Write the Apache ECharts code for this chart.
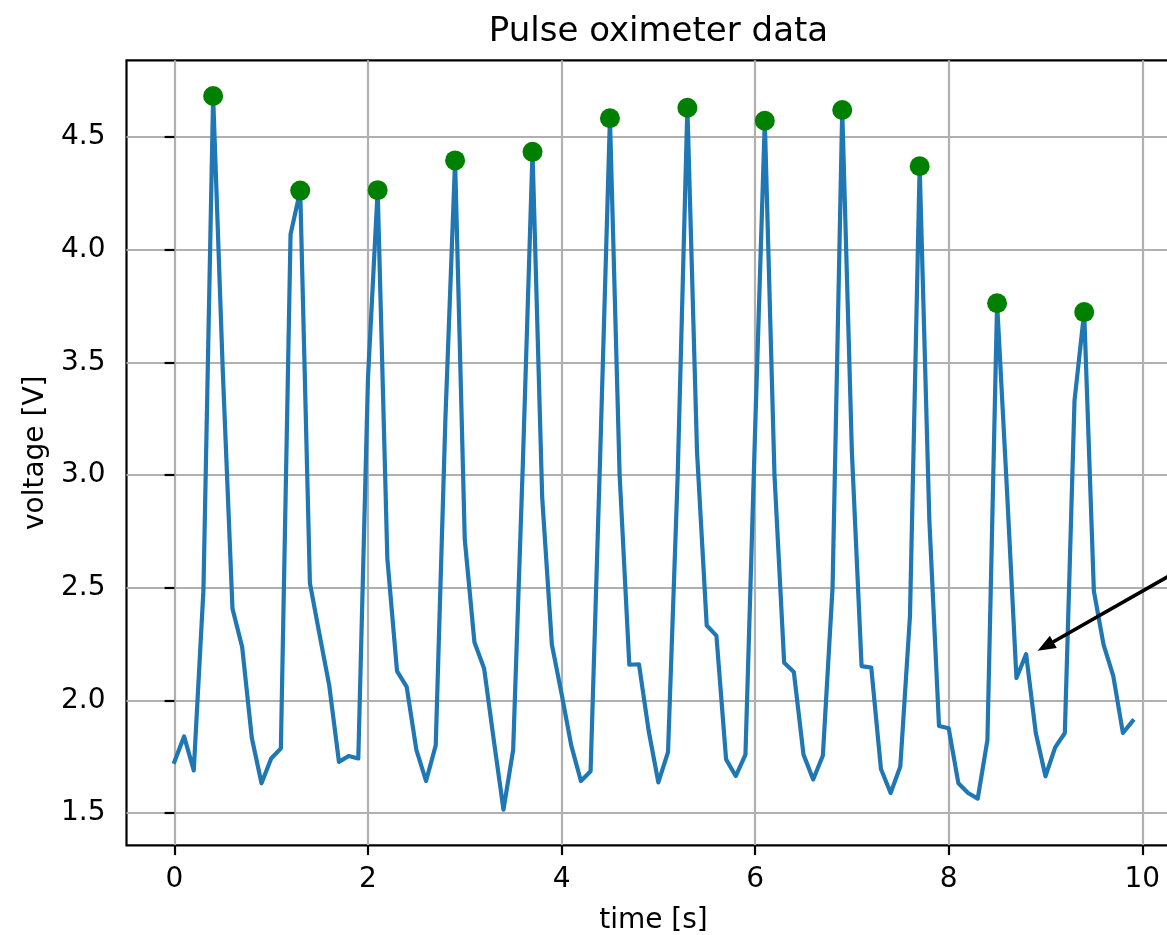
<!DOCTYPE html>
<html>
<head>
<meta charset="utf-8">
<title>Pulse oximeter data</title>
<script src="https://cdn.jsdelivr.net/npm/echarts@6/dist/echarts.min.js"></script>
<style>
  html, body { margin: 0; padding: 0; background: #fff; }
  #chart { width: 1167px; height: 935px; }
</style>
</head>
<body>
<div id="chart"></div>
<script>
// Sample times (s), 10 Hz
const timeS = [
  0.0, 0.1, 0.2, 0.3, 0.4, 0.5, 0.6, 0.7, 0.8, 0.9,
  1.0, 1.1, 1.2, 1.3, 1.4, 1.5, 1.6, 1.7, 1.8, 1.9,
  2.0, 2.1, 2.2, 2.3, 2.4, 2.5, 2.6, 2.7, 2.8, 2.9,
  3.0, 3.1, 3.2, 3.3, 3.4, 3.5, 3.6, 3.7, 3.8, 3.9,
  4.0, 4.1, 4.2, 4.3, 4.4, 4.5, 4.6, 4.7, 4.8, 4.9,
  5.0, 5.1, 5.2, 5.3, 5.4, 5.5, 5.6, 5.7, 5.8, 5.9,
  6.0, 6.1, 6.2, 6.3, 6.4, 6.5, 6.6, 6.7, 6.8, 6.9,
  7.0, 7.1, 7.2, 7.3, 7.4, 7.5, 7.6, 7.7, 7.8, 7.9,
  8.0, 8.1, 8.2, 8.3, 8.4, 8.5, 8.6, 8.7, 8.8, 8.9,
  9.0, 9.1, 9.2, 9.3, 9.4, 9.5, 9.6, 9.7, 9.8, 9.9
];

// Sensor output (V)
const voltage = [
  1.727, 1.840, 1.689, 2.490, 4.682, 3.460, 2.407, 2.237, 1.833, 1.632,
  1.742, 1.787, 4.068, 4.262, 2.520, 2.290, 2.065, 1.727, 1.753, 1.742,
  3.430, 4.264, 2.630, 2.130, 2.060, 1.780, 1.642, 1.800, 3.250, 4.396,
  2.714, 2.258, 2.141, 1.823, 1.515, 1.780, 3.050, 4.434, 2.900, 2.247,
  2.030, 1.800, 1.642, 1.685, 3.100, 4.583, 3.000, 2.158, 2.160, 1.865,
  1.636, 1.770, 3.000, 4.630, 3.100, 2.332, 2.287, 1.738, 1.664, 1.759,
  3.200, 4.572, 3.000, 2.167, 2.126, 1.759, 1.649, 1.755, 2.500, 4.620,
  3.100, 2.152, 2.145, 1.695, 1.589, 1.706, 2.375, 4.370, 2.800, 1.886,
  1.876, 1.632, 1.589, 1.564, 1.823, 3.762, 2.950, 2.099, 2.205, 1.855,
  1.663, 1.791, 1.855, 3.330, 3.723, 2.485, 2.247, 2.109, 1.855, 1.908
];

// Indices of the detected pulse peaks
const peakIndex = [4, 13, 21, 29, 37, 45, 53, 61, 69, 77, 85, 94];

// Tick positions
const xTicks = [0, 2, 4, 6, 8, 10];
const yTicks = [1.5, 2.0, 2.5, 3.0, 3.5, 4.0, 4.5];

// Annotation arrow (data coordinates): tail runs off to the right, head at the notch
const noteTail = [10.35, 2.57];
const noteHead = [9.0, 2.24];

// Axis limits with a 5 % margin around the data
function paddedRange(values) {
  const lo = Math.min.apply(null, values);
  const hi = Math.max.apply(null, values);
  const m = 0.05 * (hi - lo);
  return [lo - m, hi + m];
}
const [xMin, xMax] = paddedRange(timeS);
const [yMin, yMax] = paddedRange(voltage);

const FONT = 'DejaVu Sans';
const plot = { left: 126.5, top: 60.3, width: 1054, height: 785 };

const lineData = timeS.map((t, i) => [t, voltage[i]]);
const peakData = peakIndex.map(i => [timeS[i], voltage[i]]);

const chart = echarts.init(document.getElementById('chart'), null, { renderer: 'canvas' });

chart.setOption({
  animation: false,
  backgroundColor: '#ffffff',
  title: {
    text: 'Pulse oximeter data',
    left: plot.left + plot.width / 2,
    top: 10,
    textAlign: 'center',
    textStyle: { fontFamily: FONT, fontSize: 34, fontWeight: 'normal', color: '#000' }
  },
  grid: {
    left: plot.left,
    top: plot.top,
    width: plot.width,
    height: plot.height,
    show: true,
    borderColor: '#000',
    borderWidth: 2.2,
    backgroundColor: 'transparent',
    containLabel: false,
    outerBoundsMode: 'none'
  },
  xAxis: {
    type: 'value',
    min: xMin,
    max: xMax,
    name: 'time [s]',
    nameLocation: 'middle',
    nameGap: 61,
    nameTextStyle: { fontFamily: FONT, fontSize: 28, color: '#000' },
    axisLine: { show: false },
    axisTick: {
      show: true, inside: false, length: 9.8, customValues: xTicks,
      lineStyle: { color: '#000', width: 2.2 }
    },
    axisLabel: {
      customValues: xTicks, margin: 20,
      fontFamily: FONT, fontSize: 28, color: '#000',
      formatter: v => String(v)
    },
    splitLine: { show: true, lineStyle: { color: '#b0b0b0', width: 2.2 } }
  },
  yAxis: {
    type: 'value',
    min: yMin,
    max: yMax,
    name: 'voltage [V]',
    nameLocation: 'middle',
    nameGap: 75,
    nameTextStyle: { fontFamily: FONT, fontSize: 28, color: '#000' },
    axisLine: { show: false },
    axisTick: {
      show: true, inside: false, length: 9.8, customValues: yTicks,
      lineStyle: { color: '#000', width: 2.2 }
    },
    axisLabel: {
      customValues: yTicks, margin: 21,
      fontFamily: FONT, fontSize: 28, color: '#000',
      formatter: v => v.toFixed(1)
    },
    splitLine: { show: true, lineStyle: { color: '#b0b0b0', width: 2.2 } }
  },
  series: [
    {
      name: 'signal',
      type: 'line',
      data: lineData,
      symbol: 'none',
      clip: false,
      lineStyle: { color: '#1f77b4', width: 4.2, join: 'round', cap: 'square' },
      z: 3,
      markLine: {
        silent: true,
        animation: false,
        label: { show: false },
        lineStyle: { color: '#000', width: 3.6, type: 'solid' },
        emphasis: { disabled: true },
        data: [[
          { coord: noteTail, symbol: 'none' },
          { coord: noteHead, symbol: 'triangle', symbolSize: [14, 18] }
        ]]
      }
    },
    {
      name: 'peaks',
      type: 'scatter',
      data: peakData,
      symbol: 'circle',
      symbolSize: 20,
      clip: false,
      itemStyle: { color: '#008000', opacity: 1 },
      z: 4
    }
  ]
});
</script>
</body>
</html>
